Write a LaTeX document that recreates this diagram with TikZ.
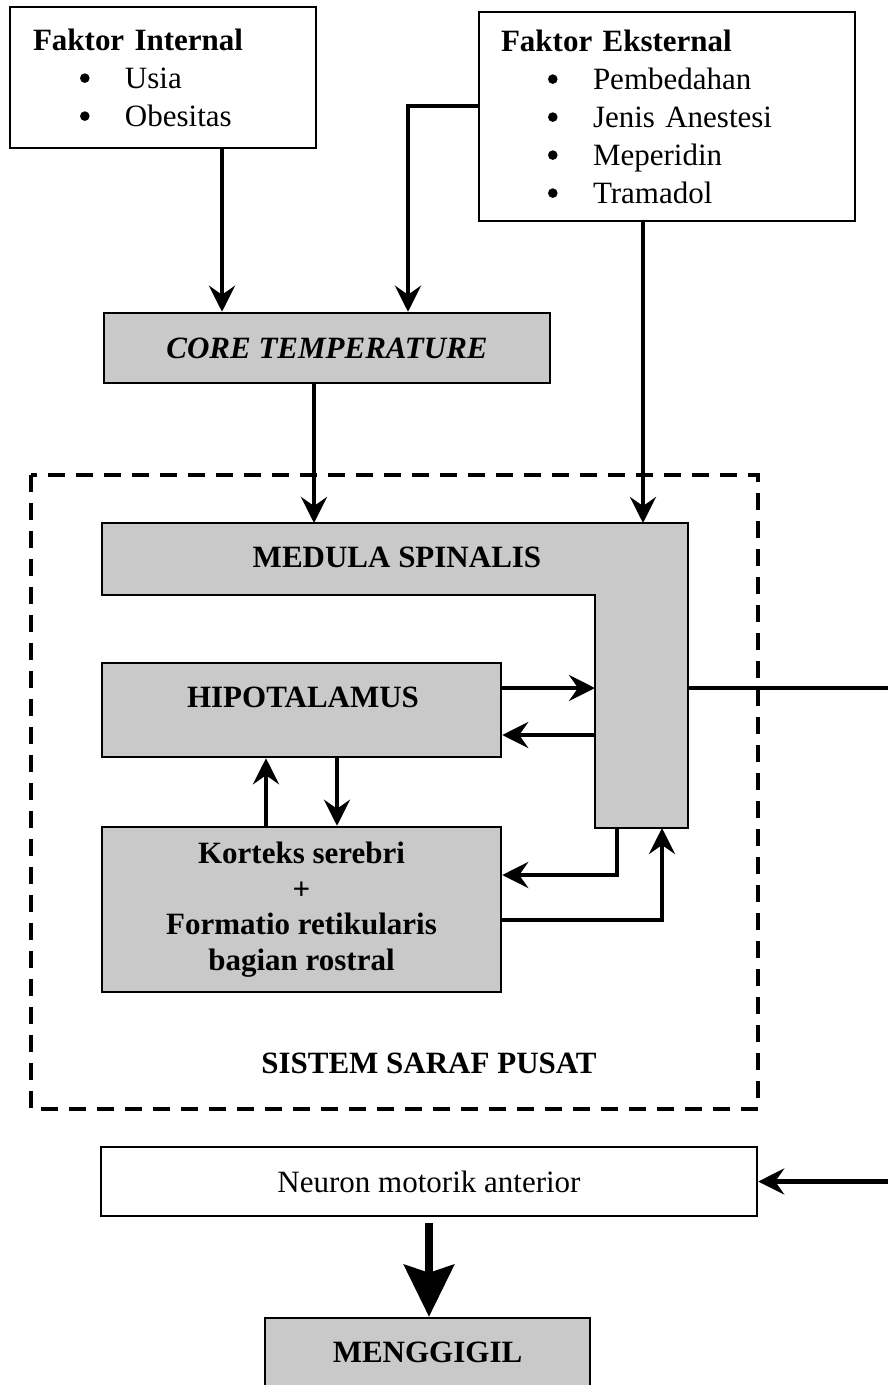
\documentclass[tikz,border=0pt]{standalone}
\usepackage{fontspec}
\setmainfont{Liberation Serif}
\usetikzlibrary{arrows.meta}
\definecolor{scangray}{gray}{0.79}
\tikzset{
  txt/.style={font=\fontsize{31}{38}\selectfont},
  boldtxt/.style={font=\fontsize{31}{35.5}\selectfont\bfseries},
  plainbox/.style={draw, line width=2.5pt, fill=white, txt},
  shadebox/.style={draw, line width=2.5pt, fill=scangray, boldtxt, align=center},
  arr/.style={line width=4.5pt, -{Stealth[length=26pt,width=26pt,inset=9pt]}},
  link/.style={line width=4.5pt},
  bigarr/.style={line width=8pt, -{Stealth[length=52pt,width=50pt,inset=8pt]}},
  cnsframe/.style={line width=4pt, dash pattern=on 17pt off 11pt},
}
\newcommand{\itm}[1]{\hspace*{47pt}\makebox[45pt][l]{\tikz[baseline={(0pt,-10pt)}] \fill (0pt,0pt) circle (4.8pt);}#1}

\begin{document}
\begin{tikzpicture}[x=1pt, y=-1pt]
        \useasboundingbox (0,0) rectangle (888,1385);
        % faktor
        \node[plainbox, minimum width=306pt, minimum height=141pt, text width=260pt, inner xsep=23pt, align=left] (internal) at (163,77.5) {\textbf{Faktor Internal}\\ \itm{Usia}\\ \itm{Obesitas}};
        \node[plainbox, minimum width=376pt, minimum height=209pt, text width=332pt, inner xsep=22pt, align=left] (ekst) at (667,116.5) {\textbf{Faktor Eksternal}\\ \itm{Pembedahan}\\ \itm{Jenis Anestesi}\\ \itm{Meperidin}\\ \itm{Tramadol}};
        \node[shadebox, minimum width=446pt, minimum height=70pt, font=\fontsize{31}{38}\selectfont\bfseries\itshape] (core) at (327,348) {CORE TEMPERATURE};
        % sistem saraf pusat
        \draw[cnsframe] (31,475) rectangle (758,1109);
        \path (102,523) coordinate (msnw) (688,523) coordinate (msne) (688,828) coordinate (msse)
              (595,828) coordinate (mssw) (595,595) coordinate (msin) (102,595) coordinate (msbl);
        \draw[line width=2.5pt, fill=scangray] (msnw) -- (msne) -- (msse) -- (mssw) -- (msin) -- (msbl) -- cycle;
        \node[boldtxt] (medula) at (397,557) {MEDULA SPINALIS};
        \node[shadebox, minimum width=399pt, minimum height=94pt] (hipot) at (301.5,710) {};
        \node[boldtxt] (hipotlbl) at (303,697) {HIPOTALAMUS};
        \node[shadebox, minimum width=399pt, minimum height=165pt] (korteks) at (301.5,909.5) {Korteks serebri\\ +\\ Formatio retikularis\\ bagian rostral};
        \node[boldtxt] (ssp) at (429,1063) {SISTEM SARAF PUSAT};
        % keluaran
        \node[plainbox, minimum width=656pt, minimum height=69pt] (neuron) at (429,1181.5) {Neuron motorik anterior};
        \node[shadebox, minimum width=325pt, minimum height=68pt] (gigil) at (427.5,1352) {MENGGIGIL};
        \coordinate (outR) at (888,688);
        \coordinate (inR) at (888,1181.5);
        % panah
        \draw[arr] ([xshift=-105pt]core.north |- internal.south) -- ([xshift=-105pt]core.north);
        \draw[arr] ([yshift=10.5pt]ekst.west) -| ([xshift=81pt]core.north);
        \draw[arr] ([xshift=-13pt]core.south) -- ([xshift=-13pt]core.south |- msnw);
        \draw[arr] ([xshift=-24pt]ekst.south) -- ([xshift=-24pt]ekst.south |- msnw);
        \draw[arr] ([yshift=22pt]hipot.east) -- ([yshift=22pt]hipot.east -| mssw);
        \draw[arr] ([yshift=-25pt]hipot.east -| mssw) -- ([yshift=-25pt]hipot.east);
        \draw[link] (outR -| msse) -- (outR);
        \draw[arr] ([xshift=-35.5pt]korteks.north) -- ([xshift=-35.5pt]hipot.south);
        \draw[arr] ([xshift=35.5pt]hipot.south) -- ([xshift=35.5pt]korteks.north);
        \draw[arr] ([xshift=22pt]mssw) |- ([yshift=34.5pt]korteks.east);
        \draw[arr] ([yshift=-10.5pt]korteks.east) -| ([xshift=-26pt]msse);
        \draw[arr] (inR) -- (neuron.east);
        \draw[bigarr] ([yshift=-6pt]neuron.south) -- (gigil.north -| neuron.south);
\end{tikzpicture}
\end{document}
